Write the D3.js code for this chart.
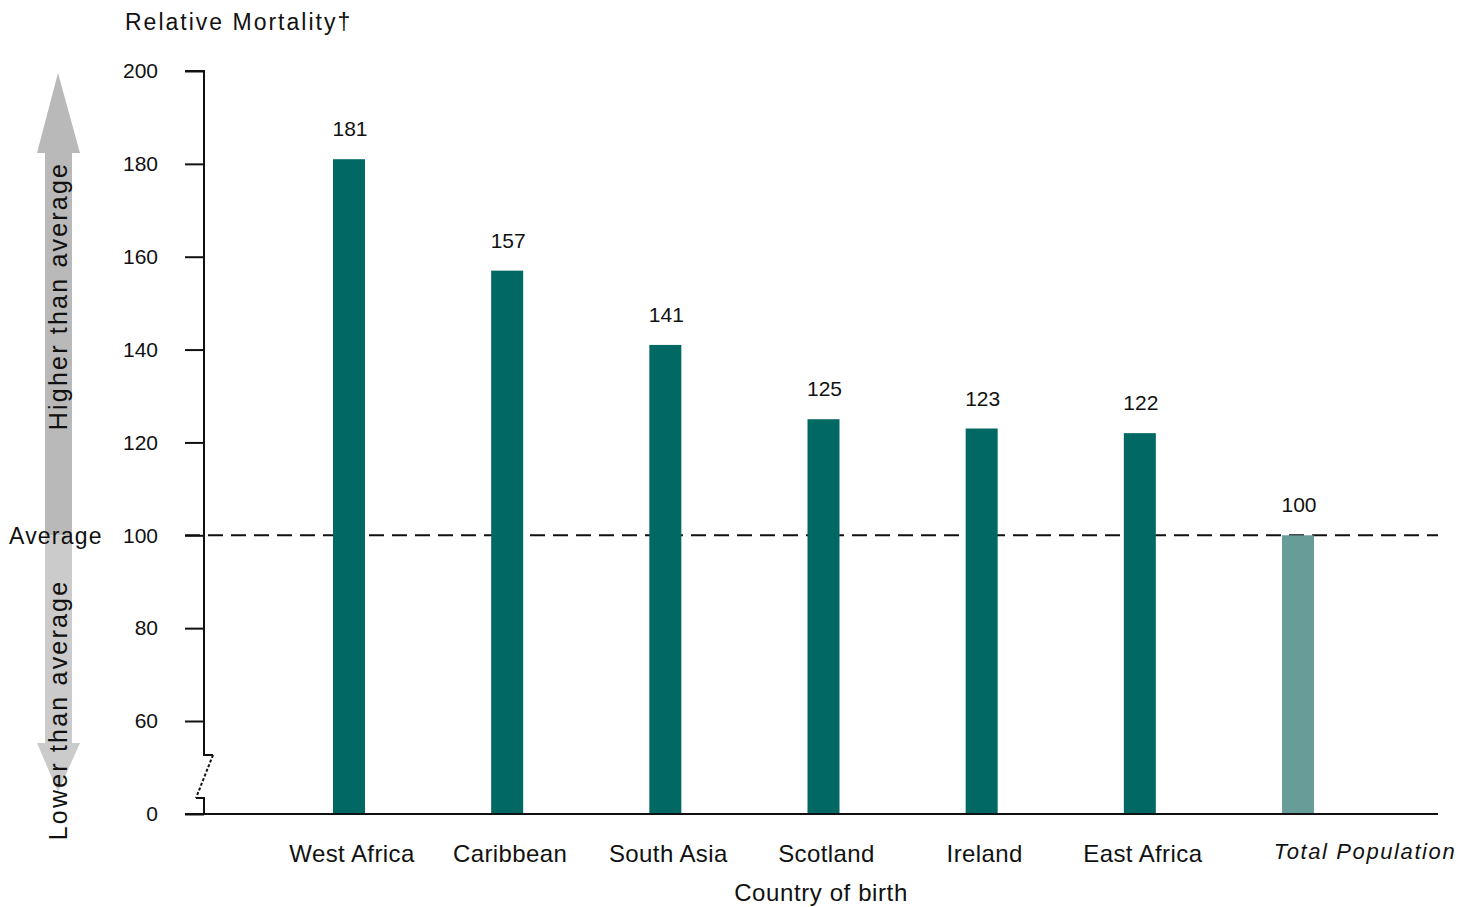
<!DOCTYPE html>
<html>
<head>
<meta charset="utf-8">
<script src="https://cdn.jsdelivr.net/npm/d3@7"></script>
<style>
  html, body { margin: 0; padding: 0; background: #fff; }
  svg { display: block; }
  text { font-family: "Liberation Sans", Arial, sans-serif; fill: #111; }
</style>
</head>
<body>
<svg id="chart" width="1472" height="907"></svg>
<script>
// ---- data ----
const categories = ["West Africa", "Caribbean", "South Asia", "Scotland", "Ireland", "East Africa", "Total Population"];
const values = [181, 157, 141, 125, 123, 122, 100];
const isTotal = [false, false, false, false, false, false, true];
const tickValues = [0, 60, 80, 100, 120, 140, 160, 180, 200];
const averageValue = 100;
const yTitle = "Relative Mortality\u2020";
const xTitle = "Country of birth";

// ---- layout ----
const svg = d3.select("#chart");
const axisX = 204;
const baseY = 814;
const rightX = 1438;

// broken axis: 0..60 compressed
const y = d3.scaleLinear().domain([0, 60, 200]).range([baseY, 721, 71]);
const x = d3.scalePoint().domain(categories).range([349, 1298]);
const barW = 32;

const darkTeal = "#016863";
const lightTeal = "#679c99";

// ---- side arrow ----
const arrow = svg.append("g");
const bandL = 45, bandR = 72, headL = 37, headR = 80;
const avgY = y(averageValue);
arrow.append("path")
  .attr("d", `M${bandL},${avgY} L${bandL},153 L${headL},153 L58,73 L${headR},153 L${bandR},153 L${bandR},${avgY} Z`)
  .attr("fill", "#b9b9b9");
arrow.append("path")
  .attr("d", `M${bandL},${avgY} L${bandL},743 L${headL},743 L58,792 L${headR},743 L${bandR},743 L${bandR},${avgY} Z`)
  .attr("fill", "#cbcbcb");

arrow.append("text")
  .attr("transform", `translate(67,${(160 + 432) / 2}) rotate(-90)`)
  .attr("text-anchor", "middle")
  .style("font-size", "25px")
  .style("letter-spacing", "2.2px")
  .text("Higher than average");
arrow.append("text")
  .attr("transform", `translate(67,${(578 + 842) / 2}) rotate(-90)`)
  .attr("text-anchor", "middle")
  .style("font-size", "25px")
  .style("letter-spacing", "2.2px")
  .text("Lower than average");
arrow.append("text")
  .attr("x", 9).attr("y", avgY + 9)
  .style("font-size", "23px")
  .style("letter-spacing", "1.2px")
  .text("Average");

// ---- average dashed line ----
svg.append("line")
  .attr("x1", 185).attr("x2", rightX)
  .attr("y1", avgY).attr("y2", avgY)
  .attr("stroke", "#111").attr("stroke-width", 2)
  .attr("stroke-dasharray", "15,8");

// ---- bars ----
svg.selectAll("rect.bar")
  .data(categories)
  .join("rect")
  .attr("class", "bar")
  .attr("x", d => x(d) - barW / 2)
  .attr("width", barW)
  .attr("y", (d, i) => y(values[i]))
  .attr("height", (d, i) => baseY - y(values[i]))
  .attr("fill", (d, i) => isTotal[i] ? lightTeal : darkTeal);

svg.selectAll("text.val")
  .data(categories)
  .join("text")
  .attr("class", "val")
  .attr("x", d => x(d) + 1)
  .attr("y", (d, i) => y(values[i]) - 23)
  .attr("text-anchor", "middle")
  .style("font-size", "21px")
  .text((d, i) => values[i]);

// ---- y axis ----
const yAxis = d3.axisLeft(y).tickValues(tickValues).tickSize(19).tickPadding(27).tickFormat(d3.format("d"));
const gy = svg.append("g").attr("transform", `translate(${axisX},0)`).call(yAxis);
gy.select(".domain").remove();
gy.selectAll(".tick line").attr("stroke", "#111").attr("stroke-width", 2);
gy.selectAll(".tick text").style("font-size", "21px").attr("fill", "#111")
  .style("font-family", "'Liberation Sans', Arial, sans-serif");

// axis line with break
svg.append("path")
  .attr("d", `M${axisX - 19},71 L${axisX},71 L${axisX},755 L213,755`)
  .attr("fill", "none").attr("stroke", "#111").attr("stroke-width", 2);
svg.append("line")
  .attr("x1", 213).attr("y1", 755).attr("x2", 196).attr("y2", 798)
  .attr("stroke", "#111").attr("stroke-width", 2).attr("stroke-dasharray", "3,2");
svg.append("path")
  .attr("d", `M196,798 L${axisX},798 L${axisX},${baseY}`)
  .attr("fill", "none").attr("stroke", "#111").attr("stroke-width", 2);

svg.append("line")
  .attr("x1", 185).attr("x2", rightX)
  .attr("y1", baseY).attr("y2", baseY)
  .attr("stroke", "#111").attr("stroke-width", 2);

// ---- x labels ----
svg.selectAll("text.cat")
  .data(categories)
  .join("text")
  .attr("class", "cat")
  .attr("x", (d, i) => x(d) + (isTotal[i] ? 67 : 3))
  .attr("y", (d, i) => isTotal[i] ? 859 : 862)
  .attr("text-anchor", "middle")
  .style("font-size", (d, i) => isTotal[i] ? "22px" : "24px")
  .style("font-style", (d, i) => isTotal[i] ? "italic" : "normal")
  .style("letter-spacing", (d, i) => isTotal[i] ? "1.6px" : "0.4px")
  .text(d => d);

svg.append("text")
  .attr("x", 821).attr("y", 901)
  .attr("text-anchor", "middle")
  .style("font-size", "24px")
  .style("letter-spacing", "0.6px")
  .text(xTitle);

svg.append("text")
  .attr("x", 125).attr("y", 30)
  .style("font-size", "23px")
  .style("letter-spacing", "2px")
  .text(yTitle);
</script>
</body>
</html>
